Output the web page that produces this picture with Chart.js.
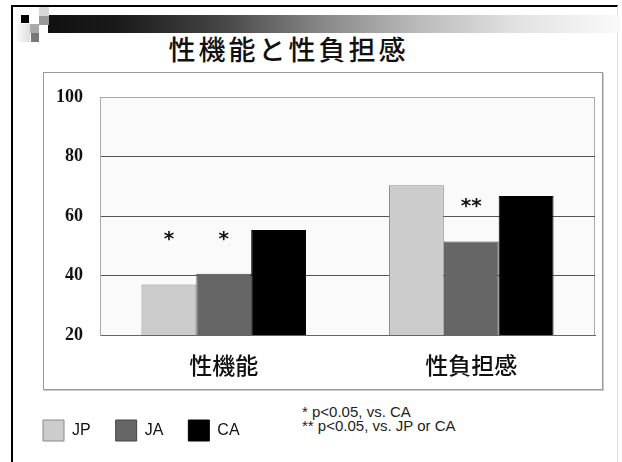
<!DOCTYPE html>
<html>
<head>
<meta charset="utf-8">
<script src="https://cdn.jsdelivr.net/npm/chart.js@4"></script>
<style>
  body { margin: 0; background: #fff; }
  #slide { position: relative; width: 622px; height: 462px; overflow: hidden; background: #fff; }
  #frame { position: absolute; left: 11px; top: 5px; width: 604px; height: 470px; border-top: 2px solid #000; border-left: 2px solid #000; border-right: 1px solid #ddd; }
  #bar { position: absolute; left: 48px; top: 15px; width: 572px; height: 18px;
         background: linear-gradient(to right, #111 0%, #1a1a1a 12%, #444 30%, #888 48%, #bbb 65%, #e2e2e2 82%, #fafafa 100%); }
  .sq { position: absolute; }
  #box { position: absolute; left: 43px; top: 72px; width: 558px; height: 316px; border: 1px solid #999; box-shadow: 1px 1px 0 #ccc; }
  #title { position: absolute; left: 0; width: 577px; top: 29px; text-align: center; font: 500 27px "Noto Sans CJK JP"; color: #111; letter-spacing: 3px; }
  #notes { position: absolute; left: 302px; top: 405px; font: 15px "Liberation Sans"; line-height: 14px; color: #222; }
  canvas { position: absolute; left: 0; top: 0; }
</style>
</head>
<body>
<div id="slide">
  <div id="frame"></div>
  <div id="bar"></div>
  <div class="sq" style="left:21px;top:15px;width:8px;height:8px;background:#000"></div>
  <div class="sq" style="left:39px;top:7px;width:10px;height:9px;background:#d8d8d8"></div>
  <div class="sq" style="left:39px;top:16px;width:10px;height:9px;background:#999"></div>
  <div class="sq" style="left:15px;top:24px;width:15px;height:18px;background:linear-gradient(to right,#fff,#ddd)"></div>
  <div class="sq" style="left:30px;top:24px;width:9px;height:9px;background:#aaa"></div>
  <div class="sq" style="left:31px;top:33px;width:8px;height:9px;background:#777"></div>
  <div id="box"></div>
  <div id="title">性機能と性負担感</div>
  <div id="notes">* p&lt;0.05, vs. CA<br>** p&lt;0.05, vs. JP or CA</div>
  <canvas id="chart" width="622" height="462"></canvas>
</div>
<script>
const categories = ['性機能', '性負担感'];
const seriesNames = ['JP', 'JA', 'CA'];
const jpValues = [37, 70.3];
const jaValues = [40.6, 51.4];
const caValues = [55.3, 66.7];
const yTicks = [20, 40, 60, 80, 100];

// significance marks per series, and the level they sit at per category
const jpStars = ['*', ''];
const jaStars = ['*', '**'];
const caStars = ['', ''];
const starLevel = [53, 64];

const starMarks = [jpStars, jaStars, caStars];

// light plot background and frame
const plotBackground = {
    id: 'plotBackground',
    beforeDraw(chart) {
        const { ctx, chartArea: a } = chart;
        ctx.save();
        ctx.fillStyle = '#fafafa';
        ctx.fillRect(a.left, a.top, a.right - a.left, a.bottom - a.top);
        ctx.strokeStyle = '#aaa';
        ctx.lineWidth = 1;
        ctx.strokeRect(a.left + 0.5, a.top + 0.5, a.right - a.left - 1, a.bottom - a.top);
        ctx.restore();
    }
};

// asterisks above the bars
const starPlugin = {
    id: 'stars',
    afterDatasetsDraw(chart) {
        const { ctx } = chart;
        const y = chart.scales.y;
        ctx.save();
        ctx.fillStyle = '#111';
        ctx.font = 'bold 20px "DejaVu Sans"';
        ctx.textAlign = 'center';
        ctx.textBaseline = 'alphabetic';
        starMarks.forEach((marks, i) => {
            const meta = chart.getDatasetMeta(i);
            marks.forEach((m, j) => {
                if (!m) return;
                ctx.fillText(m, meta.data[j].x, y.getPixelForValue(starLevel[j]) + 8);
            });
        });
        ctx.restore();
    }
};

const ctx = document.getElementById('chart').getContext('2d');
new Chart(ctx, {
    type: 'bar',
    data: {
        labels: categories,
        datasets: [
            { label: seriesNames[0], data: jpValues, backgroundColor: '#cccccc', borderColor: '#888', borderWidth: 1 },
            { label: seriesNames[1], data: jaValues, backgroundColor: '#666666', borderColor: '#444', borderWidth: 1 },
            { label: seriesNames[2], data: caValues, backgroundColor: '#000000', borderColor: '#000', borderWidth: 1 }
        ]
    },
    options: {
        responsive: false,
        animation: false,
        layout: { padding: { left: 18, right: 27, top: 97, bottom: 11 } },
        datasets: { bar: { barPercentage: 1, categoryPercentage: 0.665 } },
        plugins: {
            title: { display: false },
            tooltip: { enabled: false },
            legend: {
                position: 'bottom',
                align: 'start',
                labels: {
                    boxWidth: 21,
                    boxHeight: 21,
                    padding: 25,
                    color: '#111',
                    font: { family: 'Liberation Sans', size: 16 }
                }
            }
        },
        scales: {
            x: {
                grid: { display: false },
                border: { display: true, color: '#666' },
                ticks: { color: '#111', padding: 8, font: { family: 'Noto Sans CJK JP', size: 23, weight: 500 } },
                afterFit(scale) { scale.height = 60; }
            },
            y: {
                min: 20,
                max: 100,
                afterBuildTicks(scale) { scale.ticks = yTicks.map(v => ({ value: v })); },
                grid: {
                    drawTicks: false,
                    color: c => (c.tick.value === 100 ? '#aaa' : c.tick.value === 20 ? 'rgba(0,0,0,0)' : '#555')
                },
                border: { display: true, color: '#aaa' },
                ticks: { color: '#111', padding: 17, font: { family: 'Liberation Serif', size: 18, weight: 'bold' } },
                afterFit(scale) { scale.width = 82; }
            }
        }
    },
    plugins: [plotBackground, starPlugin]
});
</script>
</body>
</html>
